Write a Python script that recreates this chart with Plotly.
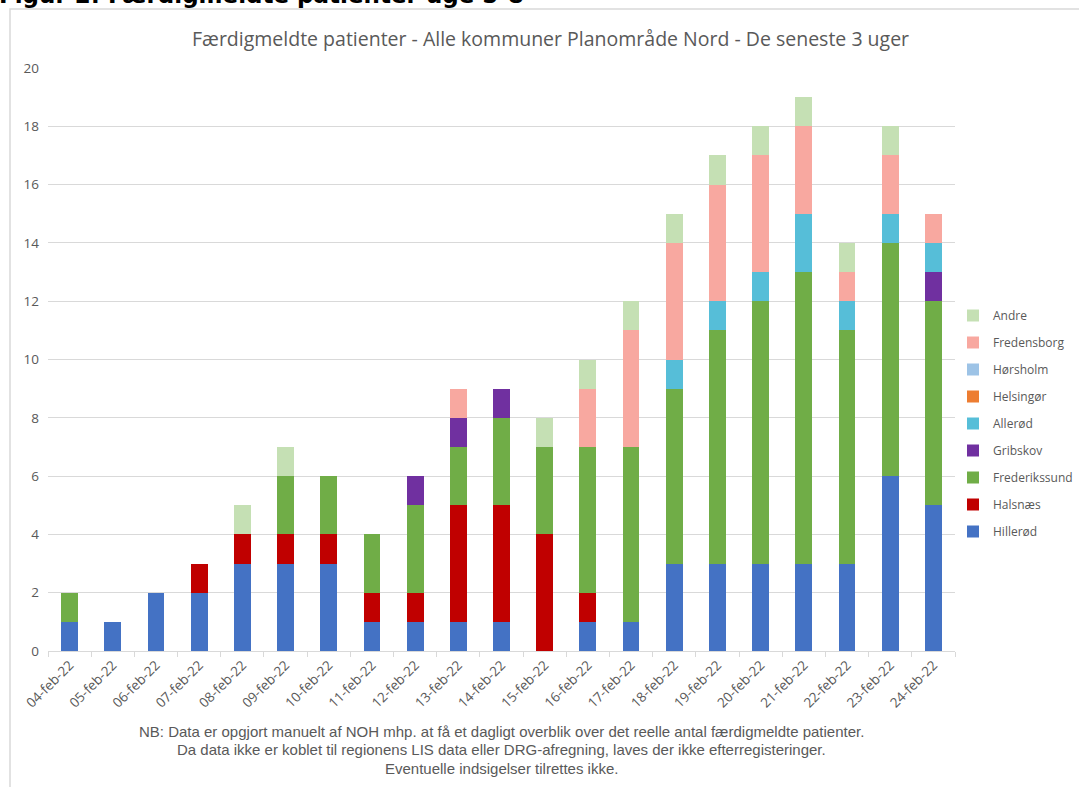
import plotly.graph_objects as go

dates = ["04-feb-22", "05-feb-22", "06-feb-22", "07-feb-22", "08-feb-22", "09-feb-22",
         "10-feb-22", "11-feb-22", "12-feb-22", "13-feb-22", "14-feb-22", "15-feb-22",
         "16-feb-22", "17-feb-22", "18-feb-22", "19-feb-22", "20-feb-22", "21-feb-22",
         "22-feb-22", "23-feb-22", "24-feb-22"]

hilleroed     = [1, 1, 2, 2, 3, 3, 3, 1, 1, 1, 1, 0, 1, 1, 3, 3, 3, 3, 3, 6, 5]
halsnaes      = [0, 0, 0, 1, 1, 1, 1, 1, 1, 4, 4, 4, 1, 0, 0, 0, 0, 0, 0, 0, 0]
frederikssund = [1, 0, 0, 0, 0, 2, 2, 2, 3, 2, 3, 3, 5, 6, 6, 8, 9, 10, 8, 8, 7]
gribskov      = [0, 0, 0, 0, 0, 0, 0, 0, 1, 1, 1, 0, 0, 0, 0, 0, 0, 0, 0, 0, 1]
alleroed      = [0, 0, 0, 0, 0, 0, 0, 0, 0, 0, 0, 0, 0, 0, 1, 1, 1, 2, 1, 1, 1]
helsingoer    = [0] * 21
hoersholm     = [0] * 21
fredensborg   = [0, 0, 0, 0, 0, 0, 0, 0, 0, 1, 0, 0, 2, 4, 4, 4, 4, 3, 1, 2, 1]
andre         = [0, 0, 0, 0, 1, 1, 0, 0, 0, 0, 0, 1, 1, 1, 1, 1, 1, 1, 1, 1, 0]

series = [
    ("Hillerød", hilleroed, "#4472C4"),
    ("Halsnæs", halsnaes, "#C00000"),
    ("Frederikssund", frederikssund, "#70AD47"),
    ("Gribskov", gribskov, "#7030A0"),
    ("Allerød", alleroed, "#56BED8"),
    ("Helsingør", helsingoer, "#ED7D31"),
    ("Hørsholm", hoersholm, "#9DC3E6"),
    ("Fredensborg", fredensborg, "#F8A8A0"),
    ("Andre", andre, "#C5E0B4"),
]

title_text = "Færdigmeldte patienter - Alle kommuner Planområde Nord - De seneste 3 uger"
heading_text = "Figur 2: Færdigmeldte patienter uge 5-8"
note_lines = [
    "NB: Data er opgjort manuelt af NOH mhp. at få et dagligt overblik over det reelle antal færdigmeldte patienter.",
    "Da data ikke er koblet til regionens LIS data eller DRG-afregning, laves der ikke efterregisteringer.",
    "Eventuelle indsigelser tilrettes ikke.",
]

W, H = 1079, 787
L, R, T, B = 48, 124, 68, 136
PW, PH = W - L - R, H - T - B


def px(x):
    return (x - L) / PW


def py(y):
    return (H - B - y) / PH


fig = go.Figure()
for i, (name, vals, col) in enumerate(series):
    fig.add_trace(go.Bar(x=dates, y=vals, name=name, legendgroup=name,
                         legendrank=1000 - i,
                         marker=dict(color=col, line=dict(width=0))))

gray = "#595959"
fig.update_layout(
    width=W, height=H,
    margin=dict(l=L, r=R, t=T, b=B, autoexpand=False),
    barmode="stack", bargap=0.61,
    plot_bgcolor="white", paper_bgcolor="white",
    font=dict(family="Open Sans, sans-serif", color=gray, size=12),
    showlegend=True,
    legend=dict(x=px(953), y=py(301), xanchor="left", yanchor="top",
                traceorder="grouped", tracegroupgap=8,
                font=dict(size=12, color=gray), itemwidth=30,
                bgcolor="rgba(0,0,0,0)"),
    xaxis=dict(type="category", tickangle=-45, showgrid=False,
               showline=True, linecolor="#D9D9D9", linewidth=1,
               ticks="outside", tickson="boundaries", ticklen=5, tickcolor="#D9D9D9",
               tickfont=dict(size=13.5, color=gray)),
    yaxis=dict(range=[0, 20], dtick=2, showgrid=True, gridcolor="#D9D9D9",
               gridwidth=1, zeroline=False, showline=False,
               tickfont=dict(size=13.5, color=gray), ticklabelstandoff=8),
)

fig.add_annotation(text=title_text, xref="paper", yref="paper",
                   x=px(550), y=py(38), xanchor="center", yanchor="middle",
                   showarrow=False, font=dict(size=19.5, color=gray,
                                              family="Open Sans, sans-serif"))
fig.add_annotation(text="<b>" + heading_text + "</b>", xref="paper", yref="paper",
                   x=px(-3), y=py(-5), xanchor="left", yanchor="middle",
                   showarrow=False, font=dict(size=23, color="black",
                                              family="DejaVu Sans, Verdana, sans-serif"))
for i, line in enumerate(note_lines):
    fig.add_annotation(text=line, xref="paper", yref="paper",
                       x=px(501), y=py(731 + i * 18.5), xanchor="center", yanchor="middle",
                       showarrow=False,
                       font=dict(size=15, color=gray,
                                 family="Liberation Sans Narrow, Arial Narrow, sans-serif"))

fig.add_shape(type="rect", xref="paper", yref="paper",
              x0=px(10), x1=px(1100), y0=py(9), y1=py(800),
              line=dict(color="#D9D9D9", width=1.5), fillcolor="rgba(0,0,0,0)",
              layer="below")

fig.write_html("out.html", config={"displayModeBar": False},
               post_script="document.body.style.margin='0';document.body.style.overflow='hidden';")
